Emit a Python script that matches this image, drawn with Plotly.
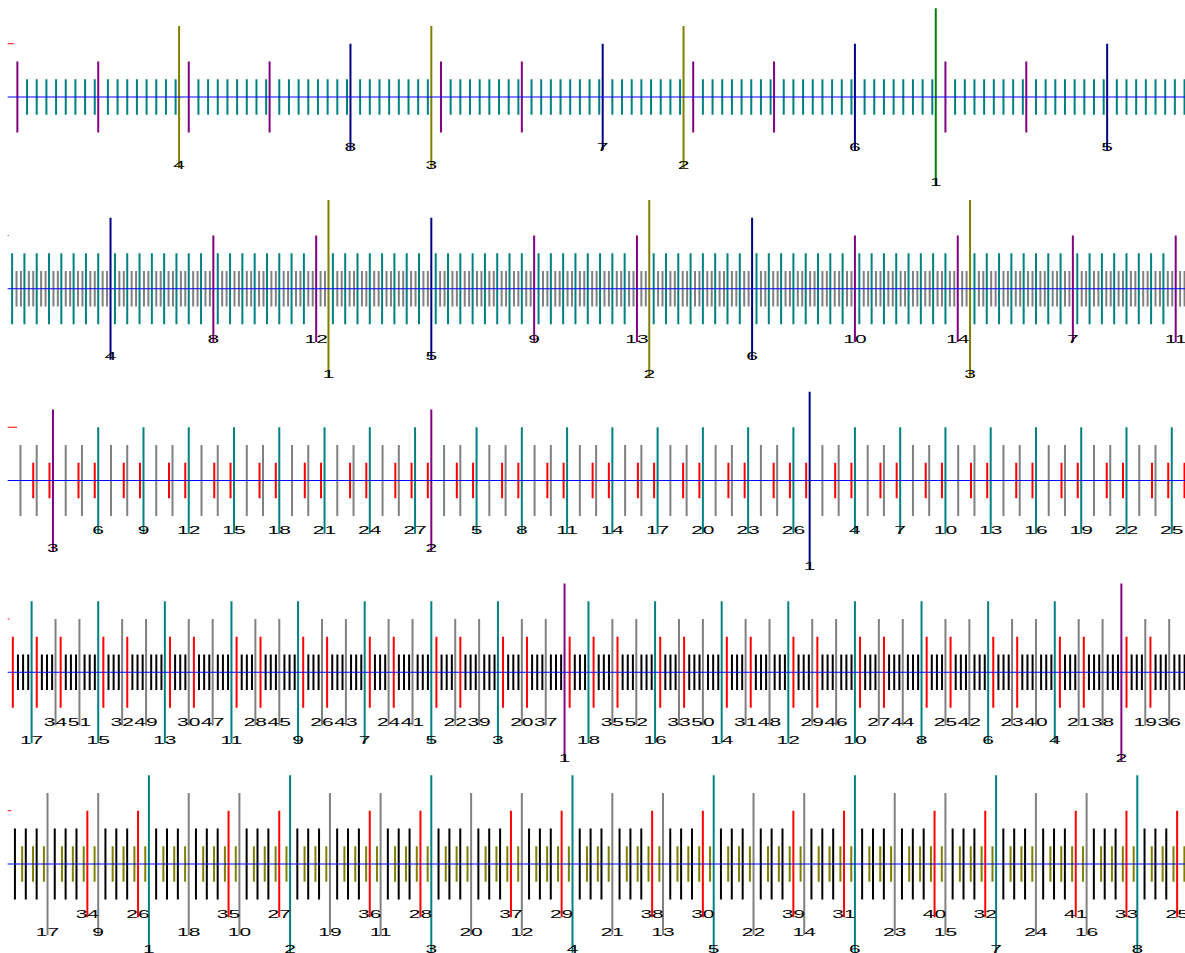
import numpy as np
import plotly.graph_objects as go

# ---- data ----------------------------------------------------------------
# rotation (fraction of one turn per step) shown in each of the five rulers
ROTATIONS = [0.7862997, 0.2717798, 0.6794493, 0.4717801, 0.1196318]
# last index belonging to each tick level of each ruler (from the labels / tick counts)
LEVEL_ENDS = [
    [1, 4, 8, 18, 130],
    [3, 6, 14, 102, 286],
    [1, 3, 27, 77, 130],
    [2, 18, 52, 88, 247],
    [8, 24, 41, 116, 208],
]
LEVEL_COLORS = [
    ["green", "olive", "navy", "purple", "teal"],
    ["olive", "navy", "purple", "teal", "gray"],
    ["navy", "purple", "teal", "gray", "red"],
    ["purple", "teal", "gray", "red", "black"],
    ["teal", "gray", "red", "black", "olive"],
]
LABELLED_LEVELS = 3            # the first three levels of each ruler carry labels
HALF_HEIGHTS = [5, 4, 3, 2, 1]  # tick half-length of each level, in ruler units
MARKER_LEVEL = 3                # height of the small red end marker

# ---- layout / style ------------------------------------------------------
FIG_W, FIG_H = 1185, 953
X0_PX, TURN_PX = 7.7, 1180.3
ROW_CENTER_PX = [97.0, 288.75, 480.5, 672.25, 864.0]
ROW_PITCH_PX = 191.75
UNIT_PX = 17.75
LABEL_LIFT_PX = 2.0
FONT = "Liberation Sans, Arial, Helvetica, sans-serif"

fig = go.Figure()
axes = {}

for r, alpha in enumerate(ROTATIONS):
    sfx = "" if r == 0 else str(r + 1)
    xa, ya = "x" + sfx, "y" + sfx
    start = 1
    lab_x, lab_y, lab_t = [], [], []
    for lev, end in enumerate(LEVEL_ENDS[r]):
        idx = np.arange(start, end + 1)
        pos = np.mod(idx * alpha, 1.0)
        h = HALF_HEIGHTS[lev]
        xs, ys = [], []
        for p in pos:
            xs += [float(p), float(p), None]
            ys += [-h, h, None]
        fig.add_trace(go.Scatter(
            x=xs, y=ys, mode="lines", xaxis=xa, yaxis=ya,
            line=dict(color=LEVEL_COLORS[r][lev], width=2),
            hoverinfo="skip", showlegend=False))
        if lev < LABELLED_LEVELS:
            lab_x += [float(p) for p in pos]
            lab_y += [-(h - LABEL_LIFT_PX / UNIT_PX)] * len(pos)
            lab_t += [str(int(k)) for k in idx]
        start = end + 1
    nxt = float(np.mod(start * alpha, 1.0))
    fig.add_trace(go.Scatter(
        x=[0, nxt], y=[MARKER_LEVEL, MARKER_LEVEL], mode="lines", xaxis=xa, yaxis=ya,
        line=dict(color="red", width=1), hoverinfo="skip", showlegend=False))
    fig.add_trace(go.Scatter(
        x=[0, 1], y=[0, 0], mode="lines", xaxis=xa, yaxis=ya,
        line=dict(color="blue", width=1), hoverinfo="skip", showlegend=False))
    fig.add_trace(go.Scatter(
        x=lab_x, y=lab_y, text=lab_t, mode="text", xaxis=xa, yaxis=ya,
        textposition="middle center", cliponaxis=False,
        textfont=dict(family=FONT, size=10.5, color="black"),
        hoverinfo="skip", showlegend=False))

    c = ROW_CENTER_PX[r]
    top = max(c - ROW_PITCH_PX / 2, 0.0)
    bot = min(c + ROW_PITCH_PX / 2, float(FIG_H))
    axes["xaxis" + sfx] = dict(
        domain=[0, 1], anchor=ya, visible=False, fixedrange=True,
        range=[-X0_PX / TURN_PX, (FIG_W - X0_PX) / TURN_PX])
    axes["yaxis" + sfx] = dict(
        domain=[1 - bot / FIG_H, 1 - top / FIG_H], anchor=xa, visible=False,
        fixedrange=True, range=[-(bot - c) / UNIT_PX, (c - top) / UNIT_PX])

fig.update_layout(
    width=FIG_W, height=FIG_H, margin=dict(l=0, r=0, t=0, b=0),
    paper_bgcolor="white", plot_bgcolor="white", showlegend=False,
    **axes)

# page without the default body margin; labels of the reference are drawn
# twice as wide as tall
page_js = """
document.body.style.margin = '0';
document.body.style.overflow = 'hidden';
var gd = document.getElementById('{plot_id}');
gd.querySelectorAll('g.textpoint text').forEach(function(t){
  var x = parseFloat(t.getAttribute('x'));
  t.setAttribute('transform', 'translate(' + x + ',0) scale(2,1) translate(' + (-x) + ',0)');
});
"""

fig.write_html("out.html", post_script=page_js, config={"displayModeBar": False})
